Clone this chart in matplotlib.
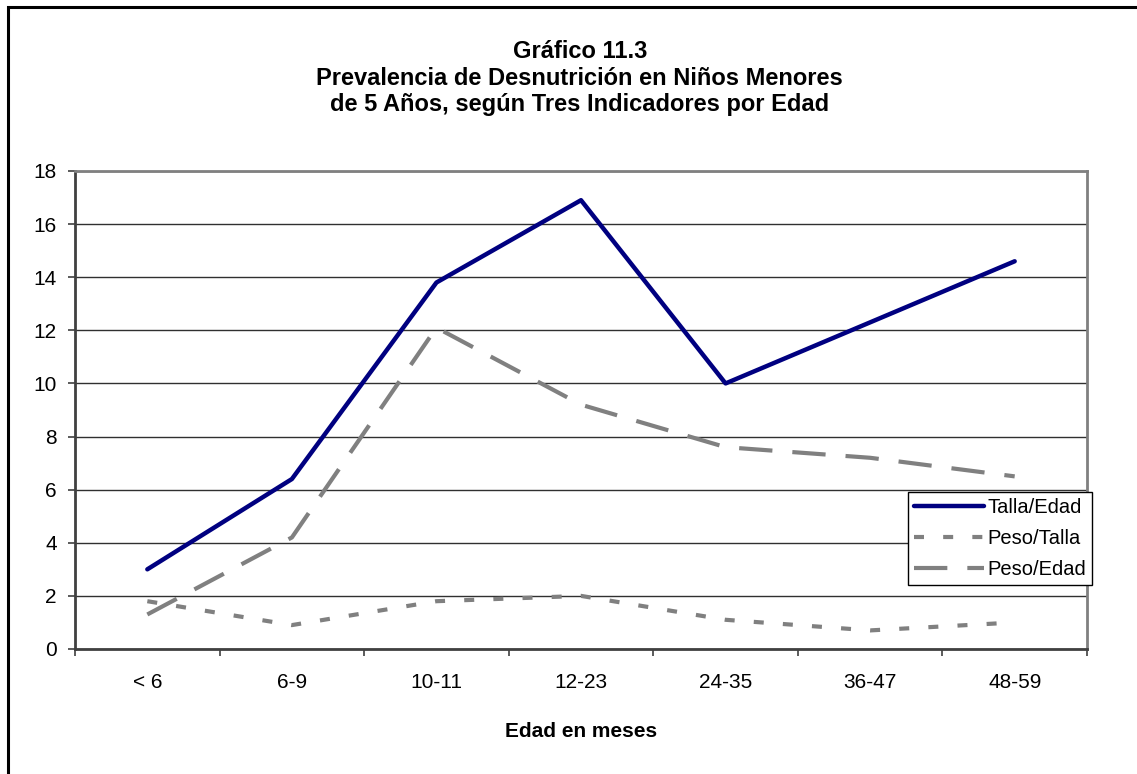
import matplotlib.pyplot as plt
from matplotlib.patches import Rectangle

plt.rcParams['font.family'] = ['Liberation Sans', 'DejaVu Sans']

edades = ['< 6', '6-9', '10-11', '12-23', '24-35', '36-47', '48-59']
talla_edad = [3.0, 6.4, 13.8, 16.9, 10.0, 12.3, 14.6]
peso_talla = [1.8, 0.9, 1.8, 2.0, 1.1, 0.7, 1.0]
peso_edad = [1.3, 4.2, 12.1, 9.2, 7.6, 7.2, 6.5]

fig = plt.figure(figsize=(11.37, 7.74), dpi=100)
ax = fig.add_axes([0.066, 0.1615, 0.890, 0.6176])

x = range(len(edades))
ax.plot(x, talla_edad, color='#000080', lw=3.2, label='Talla/Edad', solid_capstyle='round')
ax.plot(x, peso_talla, color='#808080', lw=3.0, linestyle=(0, (2.4, 4.6)), label='Peso/Talla')
ax.plot(x, peso_edad, color='#808080', lw=3.0, linestyle=(0, (8, 4.8)), label='Peso/Edad')

ax.set_xlim(-0.5, len(edades) - 0.5)
ax.set_ylim(0, 18)
ax.set_yticks(range(0, 19, 2))
ax.yaxis.grid(True, color='#303030', lw=1.0)
ax.set_axisbelow(True)

# category labels centred, tick marks between categories
ax.set_xticks(list(x))
ax.set_xticklabels(edades)
ax.set_xticks([i - 0.5 for i in range(len(edades) + 1)], minor=True)
ax.tick_params(axis='x', which='major', length=0, pad=17, labelsize=15)
ax.tick_params(axis='x', which='minor', length=5, width=1.2, color='#404040')
ax.tick_params(axis='y', length=5, width=1.2, color='#404040', labelsize=15, pad=8)

for side in ['top', 'right']:
    ax.spines[side].set_color('#808080')
    ax.spines[side].set_linewidth(2)
for side in ['left', 'bottom']:
    ax.spines[side].set_color('#404040')
    ax.spines[side].set_linewidth(2)

ax.set_xlabel('Edad en meses', fontsize=15, fontweight='bold', labelpad=22)

fig.text(0.51, 0.899, 'Gráfico 11.3\nPrevalencia de Desnutrición en Niños Menores\nde 5 Años, según Tres Indicadores por Edad',
         ha='center', va='center', fontsize=17, fontweight='bold', linespacing=1.18)

leg = ax.legend(loc='lower right', bbox_to_anchor=(1.005, 0.134), fontsize=14.5, handlelength=3.5,
                handletextpad=0.15, borderpad=0.3, labelspacing=0.6, borderaxespad=0, fancybox=False,
                framealpha=1, edgecolor='black')
leg.get_frame().set_linewidth(1.0)

# outer frame around the whole chart
fig.patches.append(Rectangle((0.007, -0.05), 1.05, 1.041, transform=fig.transFigure,
                             fill=False, edgecolor='black', lw=2.2))

fig.savefig('out.png', dpi=100)
